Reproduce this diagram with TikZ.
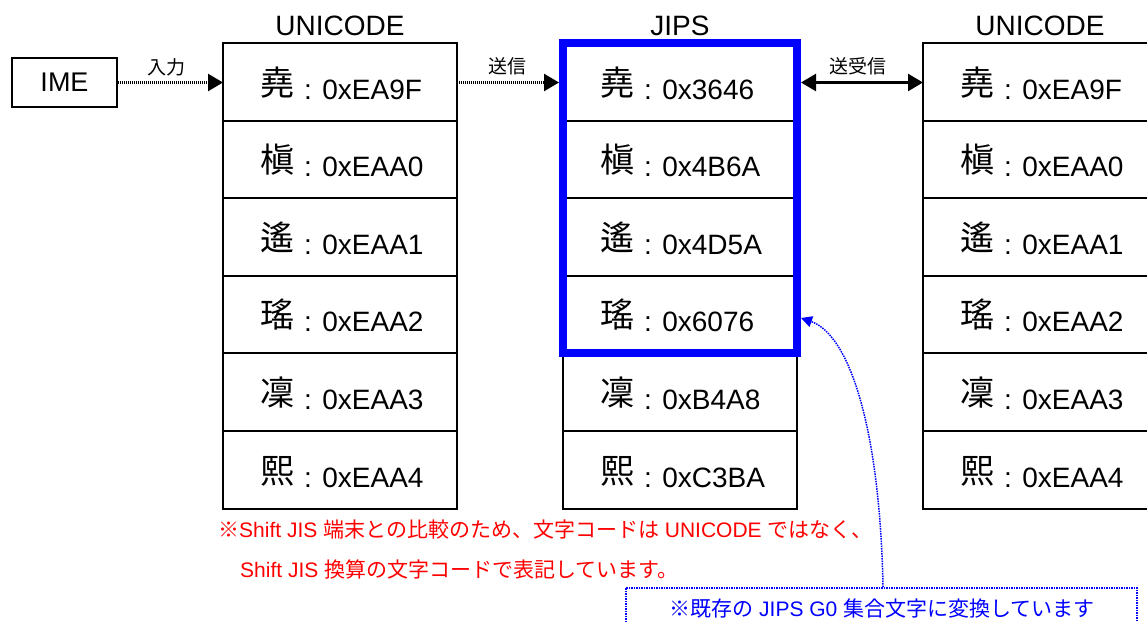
\documentclass[tikz,border=0pt]{standalone}
\usepackage{fontspec}
\setmainfont{Liberation Sans}
\newfontfamily\cjk{Noto Sans CJK JP}
\usetikzlibrary{arrows.meta,calc}
\begin{document}
\begin{tikzpicture}[x=1pt,y=-1pt,
  cell/.style={draw, line width=2pt, minimum width=234pt, minimum height=77.6pt, inner sep=0pt, outer sep=0pt},
  kan/.style={font=\cjk\fontsize{34}{40}\selectfont, anchor=base west, inner sep=0pt},
  hex/.style={font=\fontsize{28}{32}\selectfont, anchor=base west, inner sep=0pt},
  ttl/.style={font=\fontsize{28}{32}\selectfont, anchor=base, inner sep=0pt},
  lab/.style={font=\cjk\fontsize{19}{22}\selectfont, inner sep=0pt},
  flow/.style={line width=2.5pt, dash pattern=on 1.2pt off 0.8pt, -{Triangle[length=15pt,width=17pt]}},
  flowtwo/.style={line width=2.5pt, dash pattern=on 1.2pt off 0.8pt, {Triangle[length=15pt,width=17pt]}-{Triangle[length=15pt,width=17pt]}},
  bluedot/.style={draw=blue, line width=1.5pt, dash pattern=on 1.5pt off 1pt},
  redtxt/.style={text=red, font=\fontsize{21}{24}\selectfont, anchor=base west, inner sep=0pt},
]
\clip (0,0) rectangle (1147,621);
\fill[white] (0,0) rectangle (1147,621);

% titles
\node[ttl] (t1) at (340,35) {UNICODE};
\node[ttl] (t2) at (680,35) {JIPS};
\node[ttl] (t3) at (1040,35) {UNICODE};

% columns
\foreach \i/\k/\a/\b in {1/堯/EA9F/3646,2/槇/EAA0/4B6A,3/遙/EAA1/4D5A,4/瑤/EAA2/6076,5/凜/EAA3/B4A8,6/熙/EAA4/C3BA}{
  \pgfmathsetmacro\t{43+77.6*(\i-1)}
  \node[cell] (L\i) at (340,\t+38.8) {};
  \node[cell] (J\i) at (680,\t+38.8) {};
  \node[cell] (R\i) at (1040,\t+38.8) {};
  \node[kan] (Lk\i) at (260,\t+52) {\k};
  \node[kan] (Jk\i) at (600,\t+52) {\k};
  \node[kan] (Rk\i) at (960,\t+52) {\k};
  \node[hex] (Lh\i) at (304,\t+56) {: 0x\a};
  \node[hex] (Jh\i) at (644,\t+56) {: 0x\b};
  \node[hex] (Rh\i) at (1004,\t+56) {: 0x\a};
}

% blue frame around JIPS rows 1-4
\node[draw=blue, line width=8pt, minimum width=234pt, minimum height=310.4pt, inner sep=0pt] (jf) at (680,198.2) {};

% IME
\node[draw, line width=2pt, minimum width=105pt, minimum height=49pt, inner sep=0pt, font=\fontsize{27}{30}\selectfont] (ime) at (64.5,82.5) {IME};

% arrows
\draw[flow] (ime.east) -- (ime.east -| L1.west);
\node[lab] (l1) at (166,67) {入力};
\draw[flow] (L1.east |- ime.east) -- (ime.east -| jf.west);
\node[lab] (l2) at (507,66) {送信};
\draw[flowtwo] (ime.east -| jf.east) -- (ime.east -| R1.west);
\node[lab] (l3) at (858,66) {送受信};

% red notes
\node[redtxt] (n1) at (218,537) {{\cjk ※}Shift JIS {\cjk 端末との比較のため、文字コードは} UNICODE {\cjk ではなく、}};
\node[redtxt] (n2) at (240,577) {Shift JIS {\cjk 換算の文字コードで表記しています。}};

% blue note
\node[bluedot, minimum width=511pt, minimum height=60pt, inner sep=0pt, anchor=north west] (note) at (625,587) {};
\node[text=blue, font=\fontsize{21}{24}\selectfont, anchor=base, inner sep=0pt] (notetext) at (882,616) {{\cjk ※既存の} JIPS G0 {\cjk 集合文字に変換しています}};
\coordinate (cstart) at (883,587);
\coordinate (ctip) at (801,318);
\draw[blue, line width=1.5pt, dash pattern=on 1.5pt off 1pt, -{Triangle[length=11pt,width=11pt]}] (cstart) .. controls (880,430) and (850,335) .. (ctip);
\end{tikzpicture}
\end{document}
